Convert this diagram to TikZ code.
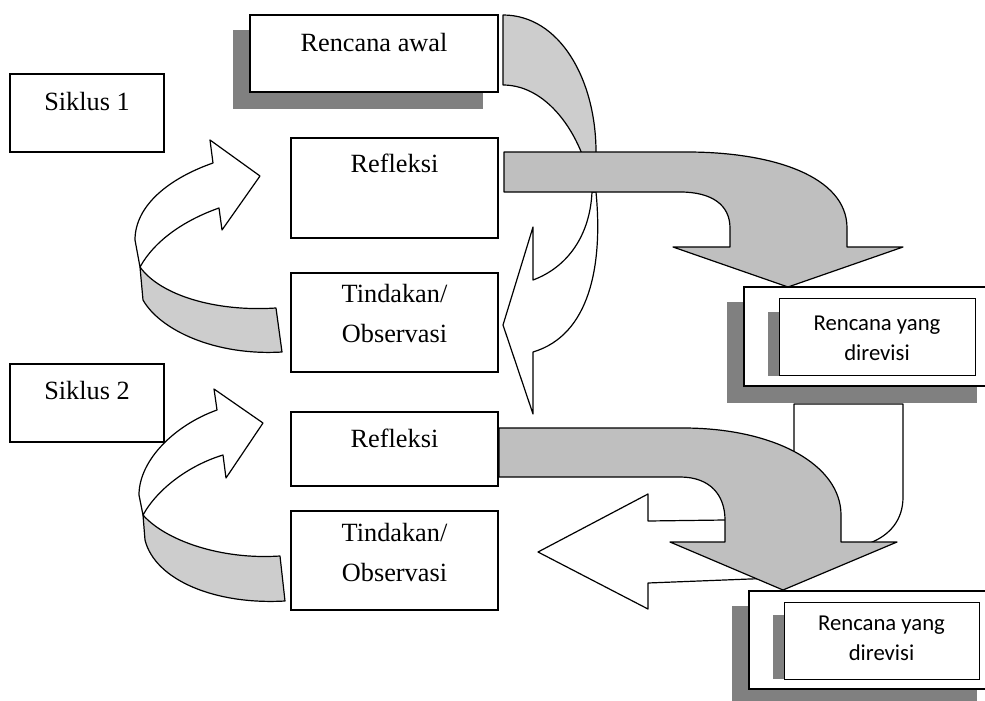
\documentclass[tikz,border=0pt]{standalone}
\usepackage{fontspec}
\setmainfont{Liberation Serif}
\newfontfamily\calibri{Carlito}
\usetikzlibrary{positioning,calc}
\definecolor{shadowgray}{HTML}{808080}
\definecolor{band}{HTML}{CDCDCD}
\definecolor{bent}{HTML}{BFBFBF}
\tikzset{
  box/.style={draw,line width=1.5pt,fill=white,inner sep=0pt},
  thinbox/.style={draw,line width=0.8pt,fill=white,inner sep=0pt},
  txt/.style={font=\fontsize{26.3}{40}\selectfont,inner sep=0pt,align=center,anchor=base},
  revtxt/.style={font=\calibri\fontsize{22.7}{30}\selectfont,inner sep=0pt,align=center,anchor=base},
  blockarrow/.style={draw,line width=1.2pt,line join=round},
}
\begin{document}
\begin{tikzpicture}[x=1pt,y=-1pt]
\useasboundingbox (0,0) rectangle (985,701);
\clip (0,0) rectangle (985,701);

% left column
\node[box,minimum width=154pt,minimum height=78pt](sik1) at (87,113){};
\node[txt](sik1t) at ($(sik1.north)+(0,37)$){Siklus 1};
\node[box,minimum width=154pt,minimum height=78pt](sik2) at (87,403){};
\node[txt](sik2t) at ($(sik2.north)+(0,36)$){Siklus 2};

% middle column
\fill[shadowgray] (233,30) rectangle (483,109);
\node[box,minimum width=248pt,minimum height=77pt](awal) at (374,53.5){};
\node[txt](awalt) at ($(awal.north)+(0,37)$){Rencana awal};
\node[box,minimum width=207pt,minimum height=100pt](refl1) at (394.5,188){};
\node[txt](refl1t) at ($(refl1.north)+(0,35)$){Refleksi};
\node[box,minimum width=207pt,minimum height=99pt](tind1) at (394.5,322.5){};
\node[txt](tind1t) at ($(tind1.north)+(0,70)$){Tindakan/\\Observasi};
\node[box,minimum width=207pt,minimum height=74pt](refl2) at (394.5,449){};
\node[txt](refl2t) at ($(refl2.north)+(0,36)$){Refleksi};
\node[box,minimum width=207pt,minimum height=99pt](tind2) at (394.5,560.5){};
\node[txt](tind2t) at ($(tind2.north)+(0,71)$){Tindakan/\\Observasi};

% curved arrow awal -> tindakan 1
\draw[blockarrow,fill=white] (592,192) .. controls (590,235) and (568,267) .. (533,280)
  -- (533,227) -- (503,325) -- (533,414) -- (533,352)
  .. controls (590,335) and (603,265) .. (596,192) -- cycle;
\draw[blockarrow,fill=band] (503,15) .. controls (560,15) and (596,80) .. (596,152)
  -- (596,192) -- (592,192) .. controls (585,140) and (550,85) .. (503,85) -- cycle;

% refleksi 1 -> revisi 1
\draw[blockarrow,fill=bent] (504,152) -- (687,152) .. controls (772,152) and (847,176) .. (847,228)
  -- (847,247) -- (903,247) -- (788,287) -- (673,247) -- (730,247) -- (730,228)
  .. controls (730,205) and (712,192) .. (680,192) -- (504,192) -- cycle;

% revisi 1
\fill[shadowgray] (727,302) rectangle (977,403);
\node[box,minimum width=246pt,minimum height=99pt](rev1) at (867,336.5){};
\fill[shadowgray] (768,312) rectangle (779,376);
\node[thinbox,minimum width=196pt,minimum height=77pt](rev1in) at (877,336.5){};
\node[revtxt](rev1t) at ($(rev1in.north)+(0,63)$){Rencana yang\\direvisi};

% u-turn arrow revisi 1 -> left
\draw[blockarrow,fill=white] (794,404) -- (903,404) -- (903,497)
  .. controls (903,520) and (890,535) .. (870,543)
  .. controls (830,565) and (790,578) .. (750,579) -- (648,583) -- (648,609)
  -- (538,552) -- (648,494) -- (648,521) -- (725,520)
  .. controls (770,518) and (794,500) .. (794,470) -- cycle;

% refleksi 2 -> revisi 2
\draw[blockarrow,fill=bent] (499,428) -- (683,428) .. controls (775,428) and (841,465) .. (841,515)
  -- (841,542) -- (897,542) -- (783,590) -- (670,542) -- (725,542) -- (725,520)
  .. controls (725,495) and (710,477) .. (680,477) -- (499,477) -- cycle;

% revisi 2
\fill[shadowgray] (732,606) rectangle (977,705);
\node[box,minimum width=241pt,minimum height=98pt](rev2) at (869.5,640){};
\fill[shadowgray] (773,615) rectangle (784,679);
\node[thinbox,minimum width=195pt,minimum height=77pt](rev2in) at (881.5,640.5){};
\node[revtxt](rev2t) at ($(rev2in.north)+(0,59)$){Rencana yang\\direvisi};

% cycle arrows
\draw[blockarrow,fill=white] (135,240) .. controls (135,205) and (170,178) .. (213,163)
  -- (210,140) -- (260,176) -- (222,230) -- (219,208)
  .. controls (185,220) and (155,240) .. (140,267) -- cycle;
\draw[blockarrow,fill=band] (140,267) .. controls (160,295) and (215,312) .. (276,308)
  -- (282,352) .. controls (215,356) and (160,330) .. (143,300) -- cycle;

\draw[blockarrow,fill=white] (139,495) .. controls (139,460) and (175,425) .. (217,410)
  -- (214,389) -- (263,423) -- (226,478) -- (223,455)
  .. controls (190,465) and (158,488) .. (143,515) -- cycle;
\draw[blockarrow,fill=band] (143,515) .. controls (165,540) and (220,560) .. (280,556)
  -- (285,601) .. controls (215,605) and (155,580) .. (145,540) -- cycle;
\end{tikzpicture}
\end{document}
